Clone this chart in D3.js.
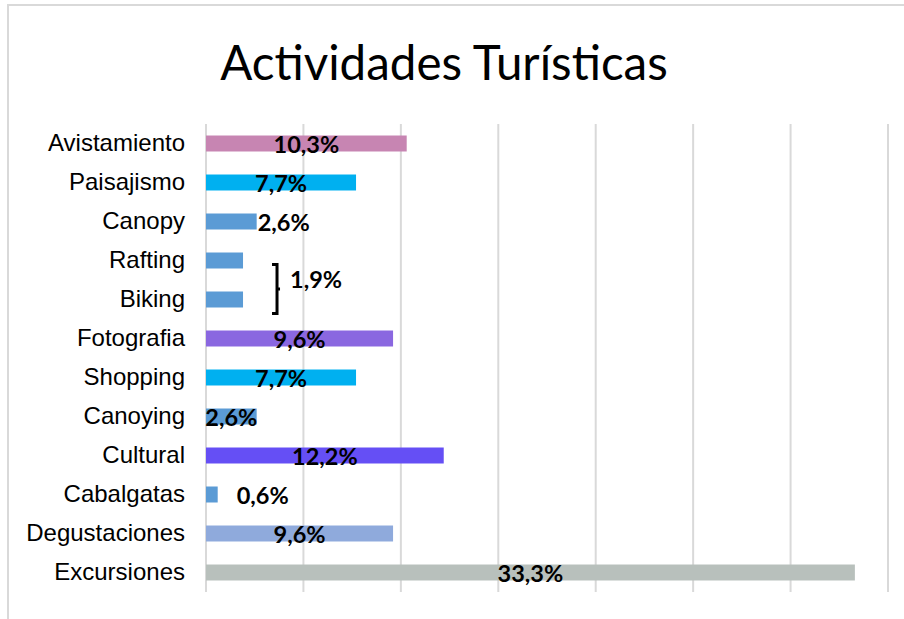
<!DOCTYPE html>
<html>
<head>
<meta charset="utf-8">
<script src="https://cdn.jsdelivr.net/npm/d3@7"></script>
<style>
  body { margin: 0; background: #fff; }
  svg { display: block; }
</style>
</head>
<body>
<script>
var w = 904,
    h = 619,
    x0 = 206,
    x1 = 888,
    yTop = 124,
    yBottom = 592;

// data
var categories = ["Avistamiento", "Paisajismo", "Canopy", "Rafting", "Biking", "Fotografia",
                  "Shopping", "Canoying", "Cultural", "Cabalgatas", "Degustaciones", "Excursiones"];
var values = [10.3, 7.7, 2.6, 1.9, 1.9, 9.6, 7.7, 2.6, 12.2, 0.6, 9.6, 33.3];
var labels = ["10,3%", "7,7%", "2,6%", "", "", "9,6%", "7,7%", "2,6%", "12,2%", "0,6%", "9,6%", "33,3%"];
var colors = ["#C785B2", "#00B0F0", "#5B9BD5", "#5B9BD5", "#5B9BD5", "#8A67E0",
              "#00B0F0", "#5B9BD5", "#654FF5", "#5B9BD5", "#8FAADC", "#B8C0BC"];
var xTicks = [0, 5, 10, 15, 20, 25, 30, 35];
var groupLabel = "1,9%";

var svg = d3.select("body").append("svg")
  .attr("width", w)
  .attr("height", h);

// chart frame
svg.append("path")
  .attr("d", "M8," + h + "V5H" + w)
  .attr("fill", "none")
  .attr("stroke", "#D9D9D9")
  .attr("stroke-width", 2);

svg.append("text")
  .attr("x", 444)
  .attr("y", 80)
  .attr("text-anchor", "middle")
  .style("font-family", "Lato, 'Noto Sans', sans-serif")
  .style("font-size", "47.5px")
  .text("Actividades Turísticas");

var x = d3.scaleLinear().domain([0, 35]).range([x0, x1]);
var y = d3.scaleBand().domain(categories).range([yTop, yBottom]).paddingInner(0.59).paddingOuter(0.295);

// gridlines
svg.append("g")
  .selectAll("line")
  .data(xTicks)
  .enter().append("line")
  .attr("x1", function(d) { return x(d); })
  .attr("x2", function(d) { return x(d); })
  .attr("y1", yTop)
  .attr("y2", yBottom)
  .attr("stroke", "#D9D9D9")
  .attr("stroke-width", 2);

// category labels
var yAxis = svg.append("g")
  .attr("transform", "translate(" + (x0 - 6) + ",0)")
  .call(d3.axisLeft(y).tickSize(0).tickPadding(15));
yAxis.select(".domain").remove();
yAxis.selectAll("text")
  .style("font-family", "'Liberation Sans', Arial, sans-serif")
  .style("font-size", "24px")
  .attr("fill", "#000");

// bars
svg.append("g")
  .selectAll("rect")
  .data(categories)
  .enter().append("rect")
  .attr("x", x(0))
  .attr("y", function(d) { return y(d); })
  .attr("width", function(d, i) { return x(values[i]) - x(0); })
  .attr("height", y.bandwidth())
  .attr("fill", function(d, i) { return colors[i]; });

// data labels
svg.append("g")
  .selectAll("text")
  .data(categories)
  .enter().append("text")
  .attr("x", function(d, i) {
    if (d == "Canopy") return x(values[i]) + 1;
    if (d == "Cabalgatas") return x(values[i]) + 19;
    return (x(0) + x(values[i])) / 2;
  })
  .attr("y", function(d) { return y(d) + y.bandwidth() / 2 + 9; })
  .attr("text-anchor", function(d) { return (d == "Canopy" || d == "Cabalgatas") ? "start" : "middle"; })
  .style("font-family", "Lato, 'Noto Sans', sans-serif")
  .style("font-weight", "bold")
  .style("font-size", "23.5px")
  .text(function(d, i) { return labels[i]; });

// bracket for Rafting + Biking
var bx = x(1.9) + 34,
    by1 = y("Rafting") + y.bandwidth() / 2 + 4,
    by2 = y("Biking") + y.bandwidth() / 2 + 14,
    bm = (by1 + by2) / 2;
svg.append("path")
  .attr("d", "M" + (bx - 5) + "," + by1 + "H" + bx + "V" + by2 + "H" + (bx - 5) +
             "M" + bx + "," + bm + "H" + (bx + 3))
  .attr("fill", "none")
  .attr("stroke", "#000")
  .attr("stroke-width", 3);

svg.append("text")
  .attr("x", bx + 13)
  .attr("y", bm - 1)
  .style("font-family", "Lato, 'Noto Sans', sans-serif")
  .style("font-weight", "bold")
  .style("font-size", "23.5px")
  .text(groupLabel);
</script>
</body>
</html>
